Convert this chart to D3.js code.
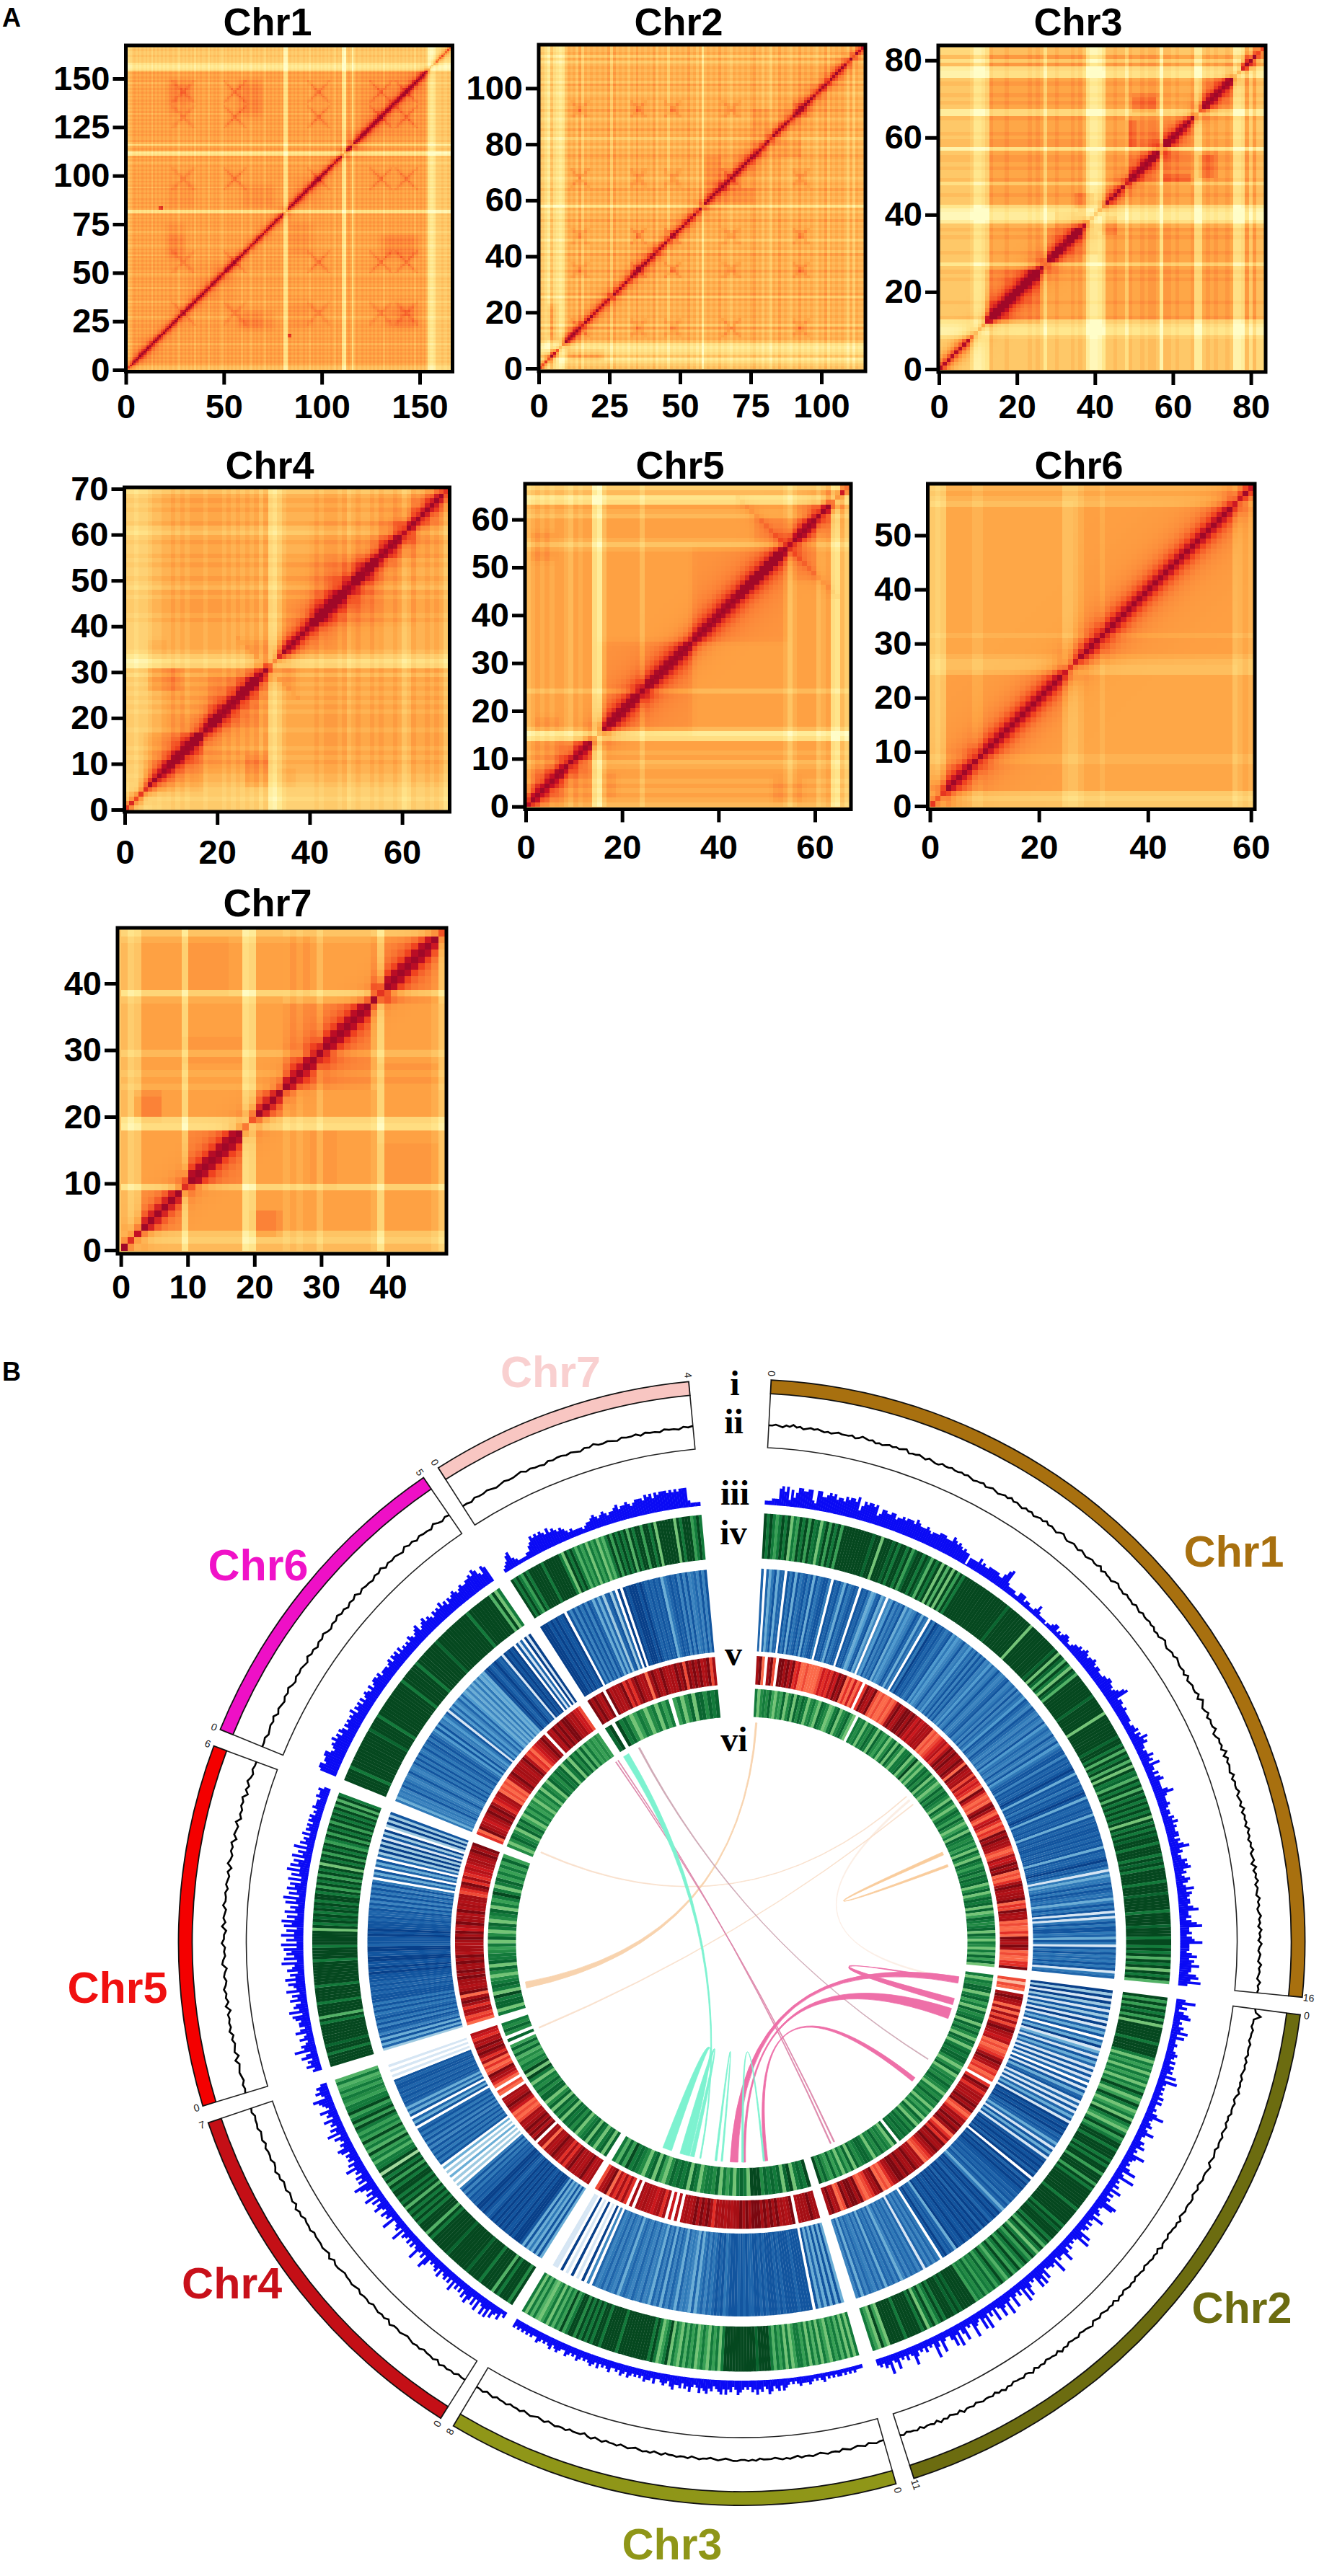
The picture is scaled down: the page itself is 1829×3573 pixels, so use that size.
<!DOCTYPE html>
<html><head><meta charset="utf-8">
<script src="https://cdn.jsdelivr.net/npm/d3@7/dist/d3.min.js"></script>
<style>html,body{margin:0;background:#fff}svg{display:block}text{font-family:"Liberation Sans",Arial,sans-serif}</style>
</head><body><svg id="c" width="1829" height="3573"></svg>
<script>
// ---------- Panel A values ----------
const chrNames=["Chr1","Chr2","Chr3","Chr4","Chr5","Chr6","Chr7"];
const xTicks=[[0,50,100,150],[0,25,50,75,100],[0,20,40,60,80],[0,20,40,60],[0,20,40,60],[0,20,40,60],[0,10,20,30,40]];
const yTicks=[[0,25,50,75,100,125,150],[0,20,40,60,80,100],[0,20,40,60,80],[0,10,20,30,40,50,60,70],[0,10,20,30,40,50,60],[0,10,20,30,40,50],[0,10,20,30,40]];
// per-bin paleness of the row/column stripes (0 none .. 9 strongest)
const chr1Pale="4432121212"+"1213121212"+"1211212312"+"1212131212"+"2131212123"+"1212121213"+"1212312121"+"2312121212"+"1882121212"+"2121312121"+"2121212312"+"1892127312"+"2121212121"+"2131212121"+"2121212131"+"2121389985"+"5545545";
const chr2Pale="4579478984"+"2324152323"+"2323151323"+"2423132323"+"1423252323"+"2313242832"+"3231323423"+"2323213242"+"3523132342"+"3132323423"+"1423232352"+"5233";
const chr3Pale="4444444458"+"8761222122"+"2221212622"+"1222121279"+"9862212251"+"2212112811"+"2122217721"+"2122128871"+"5144";
const chr4Pale="5565543322"+"1212111211"+"1212121213"+"1675322222"+"2121112132"+"1221212212"+"4312212124";
const chr5Pale="3212121123"+"1211793111"+"1111311111"+"1111111111"+"1111111111"+"1111242111"+"13217835";
const chr6Pale="4541111122"+"1111111111"+"1111133321"+"1121111111"+"1111111111"+"1111111321"+"2";
const chr7Pale="3541111116"+"1111111176"+"1111212113"+"1111111261"+"11111124";
// contact loci, blocks [x0,x1,y0,y1,level] and isolated spots [x,y,level]
const chrLoci=[[29.5,56,99,131,144],[14.5,35,47,67.5,91.8],[],[31],[55],[],[]];
const chrArm=[6,3.2,0,7,11,0,0];
const chrBoost=[.15,.17,0,.1,.14,0,0];
const chrBlocks=[
 [[22,36,84,96,.04],[59,76,84,96,.05],[59,76,21,30,.05],[22,30,57,70,.05],[132,150,58,70,.05],[132,150,22,32,.05],[22,36,138,150,.04],[58,70,130,150,.04],[120,156,120,156,.04],[110,125,110,125,.05],[5,18,5,18,.04],[85,100,85,100,.04],[32,56,32,56,.03],[0,157,0,157,.01]],
 [[56,84,56,84,.04],[10,23,3,7,.1],[2,7,2,7,.2],[3,5,11,22,.07],[8,14,8,14,.1],[65,75,58,64,.07],[85,110,85,110,.03],[30,44,30,44,.03],[85,92,75,82,.07]],
 [[0,8,0,8,.1],[12,37,12,37,.04],[12,26,12,26,.14],[28,37,28,37,.1],[12,37,43,84,.04],[43,84,43,57,.03],[35,40,42,46,.09],[48,57,48,57,.09],[49,57,58,65,.08],[58,65,58,65,.11],[50,56,67,71,.09],[58,65,48,51,.09],[66,72,50,57,.06],[67,76,67,76,.11],[78,81,78,81,.2],[37,41,30,36,.07]],
 [[0,4,0,4,.1],[4,17,4,17,.12],[17,30,17,30,.11],[5,12,26,31,.1],[5,9,33,37,.05],[33,55,33,55,.08],[40,63,40,63,.05],[55,70,55,70,.05],[27,31,31,37,.05],[9,13,17,31,.03]],
 [[0,14,0,14,.09],[15,35,15,35,.09],[35,55,35,55,.08],[1,6,52,58,.07],[2,7,16,19,.06],[55,67,55,67,.05],[48,56,56,62,.06]],
 [[0,26,0,26,.05],[27,58,27,58,.045]],
 [[0,3,0,3,.1],[3,9,3,9,.1],[9,18,9,18,.15],[18,24,18,24,.09],[24,37,24,37,.13],[37,47,37,47,.14],[2,6,19.6,23.5,.1],[9,16,38,47,.03],[9,18,28,32,.03],[38,47,24,28,.04]]
];
const chrSpots=[[[84,18,.3]],[],[],[],[],[],[]];
const chrBase=[.64,.68,.63,.62,.6,.58,.6];
const chrDiagW=[1.9,2,2,2.2,2.2,2.3,1.3];
const chrSoft=[4,1.5,.5,1.5,1.5,1,.5];
const chrPale=[chr1Pale,chr2Pale,chr3Pale,chr4Pale,chr5Pale,chr6Pale,chr7Pale];

// ---------- Panel A layout ----------
const frames=[[174.5,627.5,63,515.5],[747,1200,62,515],[1301,1755,63,516],[172.5,623.5,676,1126],[728,1180,671,1122.5],[1286.5,1740,671,1122.5],[163,619,1287,1739]];
const xAxisPx=[[[0,150],[174.5,582]],[[0,100],[747,1139]],[[0,80],[1302,1734.6]],[[0,60],[173,557.6]],[[0,60],[729,1130]],[[0,40,60],[1289.5,1591.8,1734.7]],[[0,40],[167.6,538]]];
const yAxisPx=[[[0,150],[513,109]],[[0,100],[511,122.4]],[[0,80],[512,83.7]],[[0,70],[1123,678]],[[0,60],[1118.7,720.6]],[[0,50],[1118,742.5]],[[0,40],[1734,1364]]];
const xPad=[13,13,13,21,17,17,11];
const titleX=[371,941,1495,374,943,1496,371], titleY=[49,49,49,664,664,664,1271];

const svg=d3.select("#c");
svg.append("rect").attr("width",1829).attr("height",3573).attr("fill","#fff");
const heat=d3.scaleLinear().domain([0,.18,.36,.5,.62,.78,.92,1]).range(["#fffdc8","#ffe78e","#fec868","#fea444","#fb7f36","#f0421f","#c50f24","#a00828"]).clamp(true);
const clamp01=v=>Math.max(0,Math.min(1,v));

chrNames.forEach((name,k)=>{
 const [fl,fr,ft,fb]=frames[k];
 const pale=chrPale[k], n=pale.length, soft=chrSoft[k];
 const x=d3.scaleLinear().domain(xAxisPx[k][0]).range(xAxisPx[k][1]);
 const y=d3.scaleLinear().domain(yAxisPx[k][0]).range(yAxisPx[k][1]);
 const bx=d3.scaleLinear().domain([0,n]).range([xAxisPx[k][1][0],fr-2]);
 const by=d3.scaleLinear().domain([0,n]).range([yAxisPx[k][1][0],ft+2]);
 const loci=chrLoci[k],blocks=chrBlocks[k],spots=chrSpots[k];
 const edge=(v,a,b)=>clamp01(Math.min(v-a,b-v)/soft+.5);
 const val=(i,j)=>{
  const ci=i+.5,cj=j+.5,d=Math.abs(i-j);
  let t=chrBase[k]+.5*Math.exp(-d/chrDiagW[k]);
  blocks.forEach(b=>{
   const f=Math.max(edge(ci,b[0],b[1])*edge(cj,b[2],b[3]),edge(cj,b[0],b[1])*edge(ci,b[2],b[3]));
   if(f>0){
    const wedge=(b[0]===b[2]&&b[1]===b[3])?(.45+1.4*Math.exp(-d/((b[1]-b[0])/3.5))):1;
    t+=b[4]*f*wedge;
   }
  });
  loci.forEach(a=>loci.forEach(c=>{
   const dx=ci-a,dy=cj-c,r=Math.max(Math.abs(dx),Math.abs(dy));
   if(r<=chrArm[k]){
    const e=Math.min(Math.abs(dx-dy),Math.abs(dx+dy));
    t+=chrBoost[k]*(1-.6*r/chrArm[k])*Math.exp(-e/1.3);
   }
  }));
  spots.forEach(s=>{
   if((Math.abs(ci-s[0])<1.5&&Math.abs(cj-s[1])<1.5)||(Math.abs(cj-s[0])<1.5&&Math.abs(ci-s[1])<1.5)) t+=s[2];
  });
  return t-.045*(+pale[i]+ +pale[j]);
 };
 const cells=[];
 for(let i=0;i<n;i++)for(let j=0;j<n;j++)cells.push([i,j,val(i,j)]);
 const g=svg.append("g");
 g.append("rect").attr("x",fl).attr("y",ft).attr("width",fr-fl).attr("height",fb-ft).attr("fill","#fec868");
 g.append("g").attr("shape-rendering","crispEdges").selectAll("rect").data(cells).join("rect")
  .attr("x",d=>bx(d[0])).attr("y",d=>by(d[1]+1))
  .attr("width",(fr-2-bx(0))/n+.6).attr("height",(by(0)-ft-2)/n+.6)
  .attr("fill",d=>heat(d[2]));
 g.append("rect").attr("x",fl).attr("y",ft).attr("width",fr-fl).attr("height",fb-ft).attr("fill","none").attr("stroke","#000").attr("stroke-width",5);
 const ax=g.append("g").attr("transform",`translate(0,${fb})`).call(d3.axisBottom(x).tickValues(xTicks[k]).tickSize(18).tickPadding(xPad[k]).tickFormat(d3.format("d")));
 const ay=g.append("g").attr("transform",`translate(${fl},0)`).call(d3.axisLeft(y).tickValues(yTicks[k]).tickSize(18).tickPadding(4).tickFormat(d3.format("d")));
 [ax,ay].forEach(a=>{a.select(".domain").remove();a.selectAll("line").attr("stroke","#000").attr("stroke-width",5);
  a.selectAll("text").attr("fill","#000").style("font-size","47px").style("font-weight","bold").style("font-family",'"Liberation Sans"');});
 g.append("text").attr("x",titleX[k]).attr("y",titleY[k]).attr("text-anchor","middle").attr("font-size",54).attr("font-weight","bold").text(name);
});
svg.append("text").attr("x",3).attr("y",37).attr("font-size",36).attr("font-weight","bold").text("A");
svg.append("text").attr("x",3).attr("y",1915).attr("font-size",36).attr("font-weight","bold").text("B");

// ---------- Panel B values ----------
const chrStart=[3,97.4,164.1,212.3,253.1,292.2,327.4];
const chrEnd=[95.6,162.2,210.8,251.3,290.4,325.6,354.6];
const chrEndLabel=["16","11","8","7","6","5","4"];
const chrBarColor=["#a8700f","#6c6c10","#8f9618","#c40f16","#f40000","#ee10c6","#f8c6c2"];
const chrTextColor=["#a8700f","#6c6c10","#8f9618","#c8101a","#f01010","#f012c8","#f9d0d0"];
const labelX=[1711,1722,932,321.6,163,358,763.5], labelY=[2173,3222,3550,3188,2778,2192,1924];
const romanLabels=["i","ii","iii","iv","v","vi"];
const romanY=[1935,1988,2087,2142,2310,2429];
const romanX=[1019,1017.5,1019,1017,1017,1018];
const greens=["#ffffff","#d4eecb","#a1d99b","#74c476","#52b266","#38a055","#238b45","#137a3b","#0a6630","#05481f"];
const blues=["#ffffff","#d6e6f4","#9ecae1","#6baed6","#4f9bcf","#3d85c0","#2f79b8","#1f65ab","#12559f","#08408a"];
const reds=["#ffffff","#fcbba1","#fc9272","#fb6a4a","#ef4a36","#e32f27","#cb181d","#b31218","#a50f15","#7b0810"];
const trackIV=[
"979757979375979597837959795"+"999999999989939"+"998979979589979849793949395979"+"9999999999999999899999999939999999999"+"8939849739849"+"9999999899999939999999989"+"97949794939784979497"+"9797979397979899799979897"+"9999799989999979999899979"+"97979497939794",
"9595979593"+"9999979999"+"7375737573"+"7597359735"+"7397537957"+"9979997979"+"9599959799"+"9999979999"+"9979899979"+"7497379579"+"7597597469"+"7586758675"+"9999989899"+"9797597397"+"9999979999"+"9359357",
"7373747573"+"5737473757"+"7537375747"+"9999899999"+"9999997375"+"7357537574"+"7357397537"+"9799999999"+"9979999979"+"9797979699"+"7595747375"+"3474737",
"9699979499"+"9979999899"+"9999989999"+"9979499979"+"7979497979"+"9795979297"+"7475947595"+"7579597597"+"7567575474",
"9999799899"+"9999979499"+"9979999979"+"9999999799"+"9979999939"+"7989798979"+"9795979597"+"9397959795"+"7959795979"+"7959497",
"9999799999"+"9999999899"+"9979999999"+"9999979999"+"9979999999"+"9899999999"+"9999799999"+"9994937",
"9797597"+"9999979999"+"9973979747"+"5737573647"+"9597979497"+"9959979399"+"9999397999"+"5797"
];
const trackV=[
"7073683770"+"8683867868"+"3867886087"+"8638678708"+"7863478350"+"5485768364"+"5687376086"+"9878767846"+"4568564768"+"5868564756"+"8656785675"+"8576487658"+"7657658467"+"6586584678"+"85"+"8787898387"+"8687898387"+"7878387878"+"8787878387"+"78978"+"6163668687"+"6736868171"+"6868867386"+"1868676868"+"167",
"9291928182"+"8191738073"+"9137183718"+"1817081837"+"8171817381"+"9898978737"+"1838189898"+"9790979898"+"8787868736"+"9898798979"+"8989889889"+"3787980675"+"7571757675"+"7537576737"+"5756757375",
"3838383738"+"0888878888"+"7878887878"+"8778787888"+"7687876757"+"6373565736"+"7573757365"+"7567567637"+"5675765705"+"0901090109"+"0110",
"3838363838"+"9998988989"+"8989878989"+"9787868586"+"0202030203"+"0868686"+"8585868687"+"0837083737"+"8787878878"+"0101010",
"2738385785"+"8687686868"+"8878787888"+"9898899889"+"9788898988"+"8787786858"+"5868586"+"0738073807"+"2929291829"+"0292928",
"6365658676"+"5686568686"+"8668678687"+"6484856468"+"1747457474"+"3535363634"+"3898789878"+"1989890817"+"0919",
"9998989889"+"0858586858"+"7373727827"+"0909899989"+"8787878367"+"8785858567"+"5858"
];
const trackR=[
"8930894099"+"8979563343"+"3334656586"+"9893536350"+"5987943433"+"4348978998"+"9868678783"+"4345675798"+"9889839878"+"4856539743"+"4389843675"+"3549898874"+"3486798934"+"3589878893"+"5498783433"+"5398798343"+"3559",
"4143089873"+"8384848987"+"6734345898"+"7453405985"+"7878989435"+"8798983585"+"9889875438"+"7898898998"+"7534398854"+"3498998943"+"8798",
"8898887098"+"7879898989"+"9989898878"+"7878589897"+"9878707060"+"8587677878"+"0805858573"+"9874",
"8779878798"+"5858898783"+"8809798987"+"8434368987"+"8034035789"+"4353858989"+"78567",
"3547858983"+"9878898988"+"9897887898"+"9679887978"+"7884589585"+"6767878989",
"5398767898"+"9856783434"+"3789788789"+"7453567898"+"0879898998"+"78664",
"9898790978"+"7895858987"+"8389879878"+"7989498989"+"78948"
];
const trackVI=[
"7367685365"+"8368386873"+"6753876347"+"8367853076"+"7376873865"+"7368386377"+"8369363786"+"8376358687"+"6386368758"+"6357387675"+"7386387578"+"6878368368"+"7838358767"+"8386376374"+"8583",
"7376883785"+"7386783868"+"6387378788"+"6368367687"+"6376867375"+"7386386878"+"7808367686"+"7378876"+"8385737585"+"6869",
"9787398387"+"8786999378"+"7375738677"+"6378387878"+"6358387367"+"8795847",
"8387378387"+"6386878386"+"8386388686"+"7379396756"+"4858508068"+"67",
"7388793787"+"6368387765"+"7386378367"+"8375797378"+"5757585",
"6368763868"+"5375756365"+"7376387687"+"8378386848"+"4756565",
"8909786357"+"6367375705"+"7368388687"+"8"
];
const trackHist=[
"1112226757263577667732775567675665767768357677673466556645565666576555654555666555765654544"+"0333353433"+"4444433578"+"3222211333"+"1221112421"+"1110112331"+"21233211"+"2334345434"+"4543443334"+"4554434578"+"3443343333"+"32"+"2334243645"+"3323353426"+"3324245333"+"3574333432"+"33243534"+"3344243573"+"4233545634"+"2354236354"+"3443573342"+"4683342458"+"3332463547"+"44367483",
"3724135623"+"2436252232"+"2343242434"+"2627323232"+"4242232473"+"2342363224"+"3523274323"+"2472382324"+"2624243873"+"2342732424"+"3274832324"+"2473342834"+"3326374723"+"2473824237"+"2383473272"+"4283723482"+"3274283742"+"2372482324"+"2324732423"+"2632734232",
"1112121212"+"2121213212"+"1232223212"+"1234243245"+"3243534232"+"3453243535"+"4324354353"+"2353424335"+"4234322423"+"3423232342"+"3423224323"+"2423432323"+"4232342234"+"3243232342"+"2323232323",
"2142352636"+"3262524635"+"2424262424"+"3252432325"+"7242373242"+"4234272432"+"2724352364"+"2527352468"+"2535243735"+"2434256342"+"3527352436"+"2436234572"+"35342",
"3253426428"+"4532532642"+"4435627354"+"2635273463"+"7352643827"+"3647282638"+"3627483627"+"3527382637"+"4627263837"+"4627352725"+"3425243424"+"3423243332"+"43342",
"6775667754"+"5657564653"+"5454546354"+"5353454353"+"4554534443"+"4535453534"+"3435434563"+"4564543545"+"4645354565"+"4565566768"+"75476",
"1235632111"+"1224576767"+"6575654543"+"2322221233"+"4543454344"+"5645565456"+"6657675767"+"7767676777"+"21111"
];
const trackLine=[
"5565465756"+"4565654545"+"6555645765"+"6454565656"+"7455654654"+"4655655656"+"5455645654"+"5657565465"+"6456575654"+"6754565465"+"4565574655"+"4675546554"+"6546556564"+"5467545657"+"6556474565"+"5748645746"+"5573465648"+"4756547465"+"5745647465"+"6475646574"+"5637465746"+"5475645756"+"4756475465"+"4756547565",
"56b5546554"+"6556465654"+"6565754655"+"6454654655"+"6456547655"+"6546546655"+"6547565546"+"5574656554"+"6554656546"+"5746565465"+"4765546554"+"6574655465"+"6475465546"+"5756465565"+"4655746546"+"5746556465"+"5465",
"5565465456"+"5465565456"+"5564565654"+"5554656556"+"6545654556"+"5465565546"+"5465654565"+"4655465465"+"3555465565"+"4654565465"+"5465546546"+"55",
"5546565746"+"5546565456"+"5574656546"+"5564565545"+"6647456555"+"4655465746"+"5465465754"+"6556465465"+"5465",
"6564565473"+"6546475656"+"3746575465"+"3764547553"+"7465475564"+"6546375465"+"7365473546"+"5736475465"+"5",
"5564565746"+"5465754656"+"5475646575"+"4657564657"+"4655465746"+"5654756465"+"5475465",
"5546556545"+"6556756554"+"6566565465"+"7556546556"+"4655465546"+"56"
];
// links: source start/end, target start/end, colour index
const linkA=[327.5,198.6,194.9,186.5,179.5, 107.5,99,104.8,128,156,155,332,65.8,258,294,247,49.5];
const linkB=[329.1,201,196.3,187,180, 110.3,100.7,106.5,129.2,156.3,155.3,332.4,66.6,259.6,294.3,247.3,50];
const linkC=[190.7,193.7,192.5,185,174, 179,181,100,173.2,325.7,325,122,69.3,3.6,48.4,51.1,99.6];
const linkD=[191,194.9,193.5,185.4,174.4, 179.6,183,100.4,174,325.9,325.2,122.2,69.9,4,48.6,51.3,100];
const linkType=[0,0,0,0,0, 1,1,1,1,2,2,3,4,5,6,6,7];
const linkColor=["#7df2d0","#ee6fa8","#dd88ab","#cfa9b6","#f9cc9c","#f8d3ae","#f9e0cc","#fbeee4"];

// ---------- Panel B layout ----------
const cx=1028.5,cy=2694;
const R={barO:781,barI:762,frameI:687,line:718,histB:608,histU:3.6,ivO:595.5,ivI:533,vO:519,vI:404,rO:397.5,rI:358,viO:352,viI:313,link:305,tick:790};
const rad=d=>d*Math.PI/180;
const circ=svg.append("g").attr("transform",`translate(${cx},${cy})`);
const arc=d3.arc();
function stripes(strs,palette,rI,rO){
 strs.forEach((s,k)=>{
  const a=d3.scaleLinear().domain([0,s.length]).range([rad(chrStart[k]),rad(chrEnd[k])]);
  const vals=Array.from(s,Number);
  circ.append("g").selectAll("path").data(vals).join("path")
   .attr("d",(d,i)=>arc({innerRadius:rI,outerRadius:rO,startAngle:a(i),endAngle:a(i+1)+.0004}))
   .attr("fill",d=>palette[d]);
 });
}
stripes(trackIV,greens,R.ivI,R.ivO);
stripes(trackV,blues,R.vI,R.vO);
stripes(trackR,reds,R.rI,R.rO);
stripes(trackVI,greens,R.viI,R.viO);
// histogram bars
trackHist.forEach((s,k)=>{
 const a=d3.scaleLinear().domain([0,s.length]).range([rad(chrStart[k]),rad(chrEnd[k])]);
 const vals=Array.from(s,Number);
 circ.append("g").selectAll("path").data(vals).join("path").attr("fill","#0a0af5")
  .attr("d",(d,i)=>arc({innerRadius:R.histB,outerRadius:R.histB+2+d*R.histU,startAngle:a(i),endAngle:a(i+1)+.0006}));
});
// frames, lines, bars
chrNames.forEach((n,k)=>{
 const a0=rad(chrStart[k]),a1=rad(chrEnd[k]);
 const pt=(a,r)=>[r*Math.sin(a),-r*Math.cos(a)];
 const p=d3.path();
 p.moveTo(...pt(a0,R.barI));p.lineTo(...pt(a0,R.frameI));
 p.arc(0,0,R.frameI,a0-Math.PI/2,a1-Math.PI/2);
 p.lineTo(...pt(a1,R.barI));
 circ.append("path").attr("d",p.toString()).attr("fill","none").attr("stroke","#222").attr("stroke-width",1.6);
 const s=trackLine[k];
 const la=d3.scaleLinear().domain([0,s.length-1]).range([a0,a1]);
 const lr=d3.scaleLinear().domain([5,6]).range([R.line,R.line+1.5]);
 circ.append("path").attr("fill","none").attr("stroke","#000").attr("stroke-width",2.6)
  .attr("d",d3.lineRadial().angle((d,i)=>la(i)).radius(d=>lr(d))(Array.from(s,c=>parseInt(c,36))));
 circ.append("path").attr("d",arc({innerRadius:R.barI,outerRadius:R.barO,startAngle:a0,endAngle:a1}))
  .attr("fill",chrBarColor[k]).attr("stroke","#111").attr("stroke-width",1.8);
 [[chrStart[k],"0"],[chrEnd[k],chrEndLabel[k]]].forEach(([deg,t])=>{
  const [x,y]=pt(rad(deg),R.tick);
  circ.append("text").attr("transform",`translate(${x},${y}) rotate(${deg>180?deg-270:deg-90})`)
   .attr("text-anchor","middle").attr("dy",".35em").attr("font-size",14).attr("fill","#222").text(t);
 });
 svg.append("text").attr("x",labelX[k]).attr("y",labelY[k]).attr("text-anchor","middle").attr("font-size",61).attr("font-weight","bold").attr("fill",chrTextColor[k]).text(n);
});
// links
const ribbon=d3.ribbon().radius(R.link);
linkType.map((t,i)=>i).sort((i,j)=>linkType[j]-linkType[i]).forEach(i=>{
 circ.append("path").attr("fill",linkColor[linkType[i]]).attr("stroke",linkColor[linkType[i]]).attr("stroke-width",.8)
  .attr("d",ribbon({source:{startAngle:rad(linkA[i]),endAngle:rad(linkB[i])},target:{startAngle:rad(linkC[i]),endAngle:rad(linkD[i])}}));
});
romanLabels.forEach((t,i)=>svg.append("text").attr("x",romanX[i]).attr("y",romanY[i]).attr("text-anchor","middle")
 .style("font-family",'"Liberation Serif"').attr("font-size",48).attr("font-weight","bold").text(t));
</script></body></html>
